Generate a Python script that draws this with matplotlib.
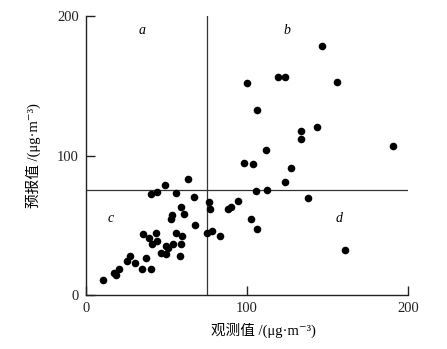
import numpy as np
import matplotlib.pyplot as plt

plt.rcParams['font.family'] = ['Liberation Serif', 'Noto Sans CJK SC', 'DejaVu Serif']

# observed vs forecast values (ug/m3)
observed = [10.8, 17.4, 18.6, 20.7, 25.2, 27.3, 30.6, 34.5, 37.0, 40.1,
            35.6, 39.3, 40.7, 43.4, 44.3, 46.3, 49.4, 49.6, 51.1, 54.2,
            55.6, 58.5, 59.0, 59.4, 52.5, 53.2, 59.0, 60.6, 67.8, 66.8,
            55.8, 40.3, 44.1, 49.2, 63.5, 74.9, 78.2, 83.0, 76.5, 76.9,
            88.1, 89.8, 94.1, 102.4, 106.3, 105.3, 112.5, 98.2, 104.0, 112.1,
            123.9, 127.2, 138.0, 133.8, 133.8, 143.3, 106.1, 99.9, 119.5, 123.9,
            155.9, 146.4, 190.7, 160.7]
forecast = [10.8, 16.0, 14.0, 18.9, 24.1, 28.0, 22.7, 18.4, 26.3, 18.4,
            43.5, 41.1, 36.6, 44.7, 38.7, 29.9, 29.2, 35.1, 33.5, 36.8,
            44.2, 28.0, 36.8, 42.3, 54.2, 57.3, 63.3, 57.8, 50.2, 70.5,
            73.4, 72.4, 73.8, 78.9, 82.9, 44.7, 45.9, 42.3, 66.4, 61.6,
            61.4, 63.3, 67.6, 54.2, 47.3, 74.3, 75.3, 94.4, 93.9, 103.7,
            81.0, 91.0, 69.5, 117.3, 111.8, 120.4, 132.4, 152.2, 156.0, 156.3,
            152.4, 178.5, 106.8, 32.3]

threshold = 75
quadrants = ['a', 'b', 'c', 'd']
quad_pos = [(35, 190), (125, 190), (15.5, 55), (157, 55)]

fig = plt.figure(figsize=(4.47, 3.49), dpi=100)
ax = fig.add_axes([0.1924, 0.1547, 0.7204, 0.7993])

ax.scatter(observed, forecast, s=30, color='black', zorder=3, linewidths=0)

ax.plot([threshold, threshold], [0, 200], color='#333333', lw=0.9)
ax.plot([0, 200], [threshold, threshold], color='#333333', lw=0.9)

for lab, (x, y) in zip(quadrants, quad_pos):
    ax.text(x, y, lab, fontsize=10, style='italic', ha='center', va='center',
            family='Liberation Serif')

ax.set_xlim(0, 200)
ax.set_ylim(0, 200)
ax.set_xticks([0, 100, 200])
ax.set_yticks([0, 100, 200])
ax.spines['top'].set_visible(False)
ax.spines['right'].set_visible(False)
for s in ['left', 'bottom']:
    ax.spines[s].set_linewidth(1.0)
    ax.spines[s].set_color('#222222')
ax.tick_params(direction='in', length=6.5, width=1.0, labelsize=10.5, colors='#222222')
ax.tick_params(axis='y', pad=5)
ax.tick_params(axis='x', pad=5)

ax.set_xlabel('观测值 /(μg·m⁻³)', fontsize=10.5)
ax.set_ylabel('预报值 /(μg·m⁻³)', fontsize=10.5)
ax.xaxis.set_label_coords(0.55, -0.1)
ax.yaxis.set_label_coords(-0.14, 0.5)

fig.savefig('out.png', dpi=100)
